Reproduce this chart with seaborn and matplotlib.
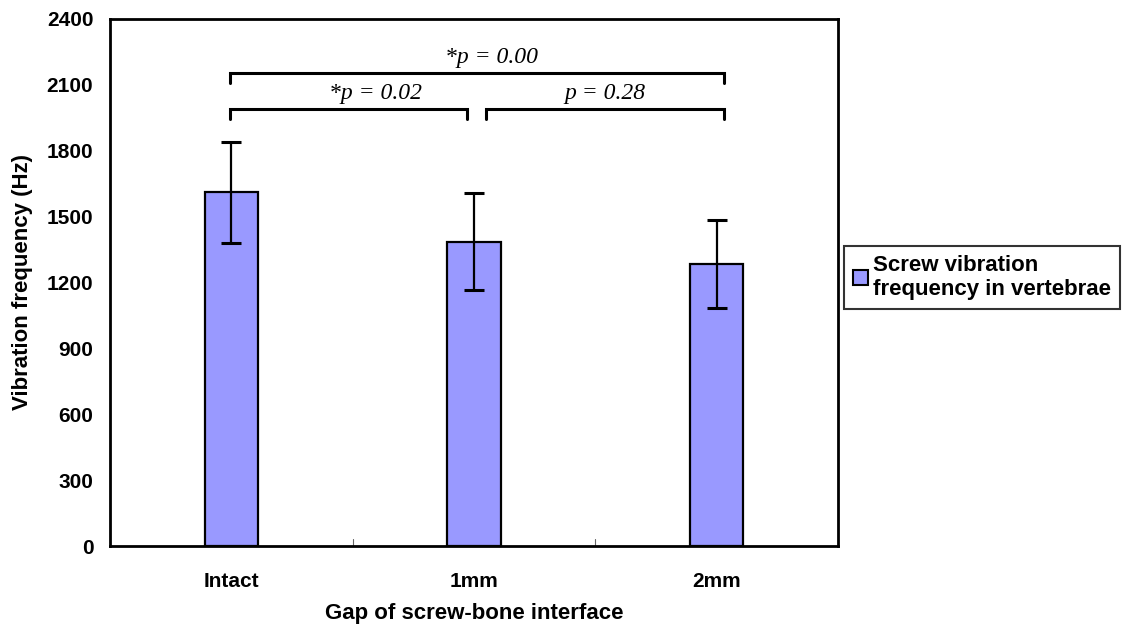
import matplotlib
matplotlib.use('Agg')
import matplotlib.pyplot as plt
import seaborn as sns
import pandas as pd

# values
groups = ['Intact', '1mm', '2mm']
freq_mean = [1612, 1386, 1285]
freq_sd = [230, 220, 200]
series_name = 'Screw vibration\nfrequency in vertebrae'
y_ticks = [0, 300, 600, 900, 1200, 1500, 1800, 2100, 2400]

# pairwise comparisons: (left group, right group, label)
comparisons = [
    (0, 2, '*p = 0.00'),
    (0, 1, '*p = 0.02'),
    (1, 2, 'p = 0.28'),
]

df = pd.DataFrame({'Gap': groups, 'Frequency': freq_mean, 'SD': freq_sd})

sns.set_style('white')
plt.rcParams['font.family'] = ['Liberation Sans', 'DejaVu Sans']
plt.rcParams['text.color'] = 'black'
plt.rcParams['axes.labelcolor'] = 'black'
plt.rcParams['xtick.color'] = 'black'
plt.rcParams['ytick.color'] = 'black'

fig = plt.figure(figsize=(11.42, 6.28), dpi=100)
ax = fig.add_axes([110 / 1142, 1 - 546 / 628, 728 / 1142, 527 / 628])

sns.barplot(
    data=df, x='Gap', y='Frequency',
    color='#9999FF', saturation=1, width=0.22,
    edgecolor='black', linewidth=1.6,
    errorbar=None, label=series_name, ax=ax,
)
ax.errorbar(
    range(len(groups)), df['Frequency'], yerr=df['SD'],
    fmt='none', ecolor='black', elinewidth=1.6, capsize=7, capthick=2.2,
)

ax.set_xlim(-0.5, 2.5)
ax.set_ylim(0, 2400)
ax.set_yticks(y_ticks)
ax.set_yticklabels([str(t) for t in y_ticks])
ax.tick_params(axis='y', length=0, pad=12)
ax.tick_params(axis='x', length=0, pad=19)
for lbl in ax.get_xticklabels() + ax.get_yticklabels():
    lbl.set_fontsize(15)
    lbl.set_fontweight('bold')

# small inside ticks at the category boundaries
for xb in [0.5, 1.5]:
    ax.plot([xb, xb], [0, 30], color='#666666', lw=0.8, clip_on=False)

for s in ax.spines.values():
    s.set_visible(True)
    s.set_color('black')
    s.set_linewidth(2)

ax.set_xlabel('Gap of screw-bone interface', fontsize=16, fontweight='bold', labelpad=8)
ax.set_ylabel('Vibration frequency (Hz)', fontsize=16, fontweight='bold', labelpad=10)

# significance brackets
levels = {(0, 2): 2155, (0, 1): 1990, (1, 2): 1990}
text_shift = {(0, 2): 0.06, (0, 1): 0.11, (1, 2): 0.0}
for a, b, txt in comparisons:
    y = levels[(a, b)]
    x0 = a - 0.005 if a == 0 else a + 0.05
    x1 = b - 0.03 if b == 1 else b + 0.03
    ax.plot([x0, x0, x1, x1], [y - 45, y, y, y - 45], color='black', lw=2.2,
            solid_joinstyle='miter')
    ax.text((x0 + x1) / 2 + text_shift[(a, b)], y + 22, txt, ha='center', va='bottom',
            fontsize=17, fontstyle='italic', family=['Liberation Serif', 'DejaVu Serif'])

leg = ax.legend(
    loc='upper left', bbox_to_anchor=(844 / 1142, 1 - 246 / 628),
    bbox_transform=fig.transFigure, frameon=True, fancybox=False,
    prop={'weight': 'bold', 'size': 16}, handlelength=0.7, handleheight=0.7,
    handletextpad=0.2, borderpad=0.4, borderaxespad=0,
)
leg.get_frame().set_edgecolor('black')
leg.get_frame().set_linewidth(1.5)
for h in leg.legend_handles:
    h.set_linewidth(1.5)

fig.savefig('out.png', dpi=100)
